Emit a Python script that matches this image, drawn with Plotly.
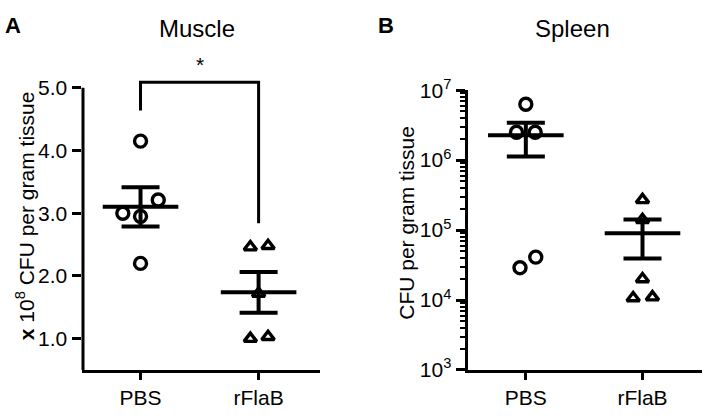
import numpy as np
import plotly.graph_objects as go

# ---- data ----
groups = ["PBS", "rFlaB"]

# Panel A: muscle, x 10^8 CFU per gram tissue
muscle_pbs = [4.15, 3.21, 3.00, 2.95, 2.20]
muscle_rflab = [2.46, 2.48, 1.00, 1.03, 1.72]

# Panel B: spleen, CFU per gram tissue
spleen_pbs = [6.3e6, 2.5e6, 2.5e6, 2.9e4, 4.1e4]
spleen_rflab = [2.7e5, 1.4e5, 2.0e4, 1.07e4, 1.1e4]

muscle_ticks = [1.0, 2.0, 3.0, 4.0, 5.0]
spleen_ticks = [1e3, 1e4, 1e5, 1e6, 1e7]
spleen_ticktext = ["10<sup>3</sup>", "10<sup>4</sup>", "10<sup>5</sup>",
                   "10<sup>6</sup>", "10<sup>7</sup>"]

# significance bracket (PBS vs rFlaB, muscle)
bracket_top = 5.09
bracket_left_end = 4.64
bracket_right_end = 2.84

# horizontal spread of the scatter points (in category units)
jitter_muscle = [[0, 0.15, -0.15, 0, 0], [-0.07, 0.08, -0.07, 0.08, 0]]
jitter_spleen = [[0, -0.08, 0.08, -0.05, 0.085], [0, 0, 0, -0.08, 0.085]]

FONT = "Liberation Sans, Arial, sans-serif"
BLACK = "#000000"

fig = go.Figure()


def add_group(fig, idx, vals, jit, symbol, xa, ya):
    # individual animals
    fig.add_trace(go.Scatter(
        x=[idx + j for j in jit], y=vals, mode="markers",
        marker=dict(symbol=symbol, size=12 if "circle" in symbol else 11,
                    color=BLACK, line=dict(width=3.4, color=BLACK)),
        xaxis=xa, yaxis=ya, showlegend=False, hoverinfo="y",
    ))
    # mean +/- SEM
    v = np.array(vals)
    mean = v.mean()
    sem = v.std(ddof=1) / np.sqrt(len(v))
    fig.add_trace(go.Scatter(
        x=[idx], y=[mean], mode="markers",
        marker=dict(symbol="line-ew", size=54, color=BLACK,
                    line=dict(width=4, color=BLACK)),
        error_y=dict(type="data", array=[sem], color=BLACK,
                     thickness=4, width=19),
        xaxis=xa, yaxis=ya, showlegend=False, hoverinfo="y",
    ))


add_group(fig, 0, muscle_pbs, jitter_muscle[0], "circle-open", "x", "y")
add_group(fig, 1, muscle_rflab, jitter_muscle[1], "triangle-up-open", "x", "y")
add_group(fig, 0, spleen_pbs, jitter_spleen[0], "circle-open", "x2", "y2")
add_group(fig, 1, spleen_rflab, jitter_spleen[1], "triangle-up-open", "x2", "y2")

# significance bracket
fig.add_trace(go.Scatter(
    x=[0, 0, 1, 1],
    y=[bracket_left_end, bracket_top, bracket_top, bracket_right_end],
    mode="lines", line=dict(color=BLACK, width=3),
    xaxis="x", yaxis="y", showlegend=False, hoverinfo="skip",
))

axis_common = dict(
    showgrid=False, zeroline=False, ticks="outside", tickwidth=3,
    tickcolor=BLACK, linecolor=BLACK, linewidth=3,
    tickfont=dict(family=FONT, size=21, color=BLACK),
)

fig.update_layout(
    width=718, height=420,
    margin=dict(l=0, r=0, t=0, b=0),
    paper_bgcolor="white", plot_bgcolor="white",
    font=dict(family=FONT, color=BLACK),
    xaxis=dict(domain=[81.5 / 718, 320 / 718], range=[-0.5, 1.52],
               tickvals=[0, 1], ticktext=groups, showline=True, ticklen=7,
               **axis_common),
    yaxis=dict(domain=[1 - 378.5 / 420, 1 - 68.5 / 420], range=[0.5, 5.15],
               tickvals=muscle_ticks, tickformat=".1f", showline=False,
               ticklen=9, anchor="x", **axis_common),
    xaxis2=dict(domain=[467.5 / 718, 702 / 718], range=[-0.5, 1.51],
                tickvals=[0, 1], ticktext=groups, showline=True, ticklen=7,
                anchor="y2", **axis_common),
    yaxis2=dict(domain=[1 - 378.5 / 420, 1 - 81 / 420], type="log",
                range=[3, 7], tickvals=spleen_ticks, ticktext=spleen_ticktext,
                showline=True, ticklen=9, anchor="x2",
                minor=dict(ticks="outside", ticklen=5, tickwidth=2,
                           tickcolor=BLACK, showgrid=False,
                           tickvals=[k * 10 ** p for p in range(3, 7)
                                     for k in range(2, 10)]),
                **axis_common),
)

# y-axis line of panel A stops at 5.0 so the bracket can sit above it
fig.add_shape(type="line", xref="x", yref="y", x0=-0.5, x1=-0.5,
              y0=0.5, y1=5.0, line=dict(color=BLACK, width=6))

annotations = [
    dict(text="<b>A</b>", x=13 / 718, y=1 - 12 / 420, size=22),
    dict(text="<b>B</b>", x=386 / 718, y=1 - 12 / 420, size=22),
    dict(text="Muscle", x=197 / 718, y=1 - 15 / 420, size=24),
    dict(text="Spleen", x=572 / 718, y=1 - 15 / 420, size=24),
]
for a in annotations:
    fig.add_annotation(text=a["text"], x=a["x"], y=a["y"], xref="paper",
                       yref="paper", showarrow=False, xanchor="center",
                       yanchor="middle",
                       font=dict(family=FONT, size=a["size"], color=BLACK))

fig.add_annotation(text="<b>x</b> 10<sup>8</sup> CFU per gram tissue",
                   textangle=-90, x=25 / 718, y=1 - 215 / 420,
                   xref="paper", yref="paper", showarrow=False,
                   xanchor="center", yanchor="middle",
                   font=dict(family=FONT, size=21, color=BLACK))
fig.add_annotation(text="CFU per gram tissue", textangle=-90,
                   x=407 / 718, y=1 - 222 / 420, xref="paper", yref="paper",
                   showarrow=False, xanchor="center", yanchor="middle",
                   font=dict(family=FONT, size=21, color=BLACK))

# significance star
fig.add_annotation(text="*", x=0.5, y=bracket_top, xref="x", yref="y",
                   showarrow=False, yanchor="bottom", yshift=4,
                   font=dict(family=FONT, size=21, color=BLACK))

fig.write_html("out.html", config={"displayModeBar": False},
               post_script="document.body.style.margin='0';")
